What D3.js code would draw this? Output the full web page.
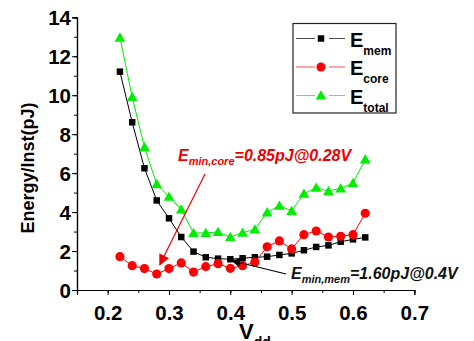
<!DOCTYPE html>
<html>
<head>
<meta charset="UTF-8" />
<script src="https://d3js.org/d3.v7.min.js"></script>
<style>
  body { margin: 0; background: white; }
  svg { display: block; font-family: Arial, "Liberation Sans", sans-serif; font-weight: bold; }
</style>
</head>
<body>
<svg width="474" height="341"></svg>
<script>
// Vdd in V
const vdd = [0.22, 0.24, 0.26, 0.28, 0.30, 0.32, 0.34, 0.36, 0.38, 0.40, 0.42,
             0.44, 0.46, 0.48, 0.50, 0.52, 0.54, 0.56, 0.58, 0.60, 0.62];
// energy per instruction, pJ
const eMem   = [11.21, 8.61, 6.25, 4.60, 3.68, 2.72, 1.97, 1.68, 1.61, 1.58, 1.63,
                1.68, 1.71, 1.80, 1.88, 2.04, 2.21, 2.29, 2.48, 2.60, 2.70];
const eCore  = [1.71, 1.25, 1.10, 0.82, 1.10, 1.39, 0.92, 1.20, 1.35, 1.11, 1.25,
                1.42, 2.22, 2.52, 2.11, 2.84, 3.03, 2.72, 2.76, 2.84, 3.94];
const eTotal = [12.96, 9.91, 7.34, 5.44, 4.79, 4.14, 2.93, 2.93, 2.98, 2.72, 2.94,
                3.11, 3.99, 4.33, 4.06, 4.95, 5.25, 5.08, 5.22, 5.49, 6.71];

const xTicks = [0.2, 0.3, 0.4, 0.5, 0.6, 0.7];
const yTicks = [0, 2, 4, 6, 8, 10, 12, 14];

const series = [
  { sub: "mem",   vals: eMem,   color: "#000000", sym: d3.symbolSquare,   size: 42 },
  { sub: "core",  vals: eCore,  color: "#ff0000", sym: d3.symbolCircle,   size: 66 },
  { sub: "total", vals: eTotal, color: "#00ee00", sym: d3.symbolTriangle, size: 50 }
];

const svg = d3.select("svg");
const x = d3.scaleLinear().domain([0.15, 0.7]).range([77, 414.3]);
const y = d3.scaleLinear().domain([0, 14]).range([290, 17.3]);

// axes (major + minor ticks)
const gx = svg.append("g").attr("transform", "translate(0,290)");
gx.call(d3.axisBottom(x).tickValues(d3.range(0.15, 0.701, 0.05)).tickSize(3).tickFormat(""));
gx.call(g => g.append("g").call(d3.axisBottom(x).tickValues(xTicks).tickSize(5).tickFormat(d3.format(".1f"))));
gx.selectAll("text").attr("font-size", 20.5).attr("font-family", "Arial, 'Liberation Sans'")
  .attr("font-weight", "bold").attr("fill", "#000").attr("dy", "1.05em");

const gy = svg.append("g").attr("transform", "translate(77,0)");
gy.call(d3.axisLeft(y).tickValues(d3.range(0, 15, 1)).tickSize(3).tickFormat(""));
gy.call(g => g.append("g").call(d3.axisLeft(y).tickValues(yTicks).tickSize(5).tickFormat(d3.format("d"))));
gy.selectAll("text").attr("font-size", 20.5).attr("font-family", "Arial, 'Liberation Sans'")
  .attr("font-weight", "bold").attr("fill", "#000").attr("x", -6).attr("dy", "0.36em");
svg.selectAll(".domain").attr("stroke", "#000").attr("stroke-width", 1.2);
svg.selectAll(".tick line").attr("stroke", "#000");

// series
const line = d3.line().x((d, i) => x(vdd[i])).y(d => y(d));
series.forEach(s => {
  svg.append("path").datum(s.vals).attr("d", line)
    .attr("fill", "none").attr("stroke", s.color).attr("stroke-width", 1);
  svg.append("g").selectAll("path").data(s.vals).join("path")
    .attr("d", d3.symbol(s.sym, s.size))
    .attr("transform", (d, i) => `translate(${x(vdd[i])},${y(d) + (s.sub === "total" ? 1 : 0)})`)
    .attr("fill", s.color);
});

// axis titles
svg.append("text")
  .attr("transform", "translate(34,168) rotate(-90)")
  .attr("text-anchor", "middle").attr("font-size", 18).text("Energy/Inst(pJ)");
const vt = svg.append("text").attr("x", 239).attr("y", 339).attr("font-size", 22);
vt.append("tspan").text("V");
vt.append("tspan").attr("dy", 8).attr("font-size", 14).text("dd");

// legend
const lg = svg.append("g");
lg.append("rect").attr("x", 293).attr("y", 23.5).attr("width", 103).attr("height", 89.5)
  .attr("fill", "white").attr("stroke", "#222").attr("stroke-width", 1.2);
const rowY = [38.5, 67, 95.5];
series.forEach((s, i) => {
  const cy = rowY[i];
  lg.append("line").attr("x1", 296).attr("x2", 315).attr("y1", cy).attr("y2", cy)
    .attr("stroke", s.color).attr("stroke-opacity", 0.7);
  lg.append("line").attr("x1", 329).attr("x2", 345).attr("y1", cy).attr("y2", cy)
    .attr("stroke", s.color).attr("stroke-opacity", 0.7);
  lg.append("path").attr("d", d3.symbol(s.sym, s.size)).attr("fill", s.color)
    .attr("transform", `translate(321,${cy + (s.sub === "total" ? 1 : 0)})`);
  const t = lg.append("text").attr("x", 350).attr("y", cy + 8).attr("font-size", 20);
  t.append("tspan").text("E");
  t.append("tspan").attr("dy", 8).attr("font-size", 12).text(s.sub);
});

// annotations
const defs = svg.append("defs");
[["arrRed", "#ee0000", 11], ["arrBlack", "#000", 9]].forEach(([id, c, sz]) => {
  defs.append("marker").attr("id", id).attr("viewBox", "0 0 10 10").attr("refX", 9).attr("refY", 5)
    .attr("markerWidth", sz).attr("markerHeight", sz).attr("orient", "auto")
    .attr("markerUnits", "userSpaceOnUse")
    .append("path").attr("d", "M0,0 L10,5 L0,10 z").attr("fill", c);
});
svg.append("line").attr("x1", 205).attr("y1", 174).attr("x2", x(0.285)).attr("y2", y(1.3))
  .attr("stroke", "#ee0000").attr("stroke-width", 1.2).attr("marker-end", "url(#arrRed)");
svg.append("line").attr("x1", 286).attr("y1", 274).attr("x2", x(0.403)).attr("y2", y(1.5))
  .attr("stroke", "#000").attr("stroke-width", 1.2).attr("marker-end", "url(#arrBlack)");

const a1 = svg.append("text").attr("x", 178).attr("y", 161).attr("font-size", 16)
  .attr("font-style", "italic").attr("fill", "#ee0000");
a1.append("tspan").text("E");
a1.append("tspan").attr("dy", 4).attr("font-size", 11).text("min,core");
a1.append("tspan").attr("dy", -4).text("=0.85pJ@0.28V");

const a2 = svg.append("text").attr("x", 291).attr("y", 279).attr("font-size", 16)
  .attr("font-style", "italic").attr("fill", "#111");
a2.append("tspan").text("E");
a2.append("tspan").attr("dy", 4).attr("font-size", 11).text("min,mem");
a2.append("tspan").attr("dy", -4).text("=1.60pJ@0.4V");
</script>
</body>
</html>
